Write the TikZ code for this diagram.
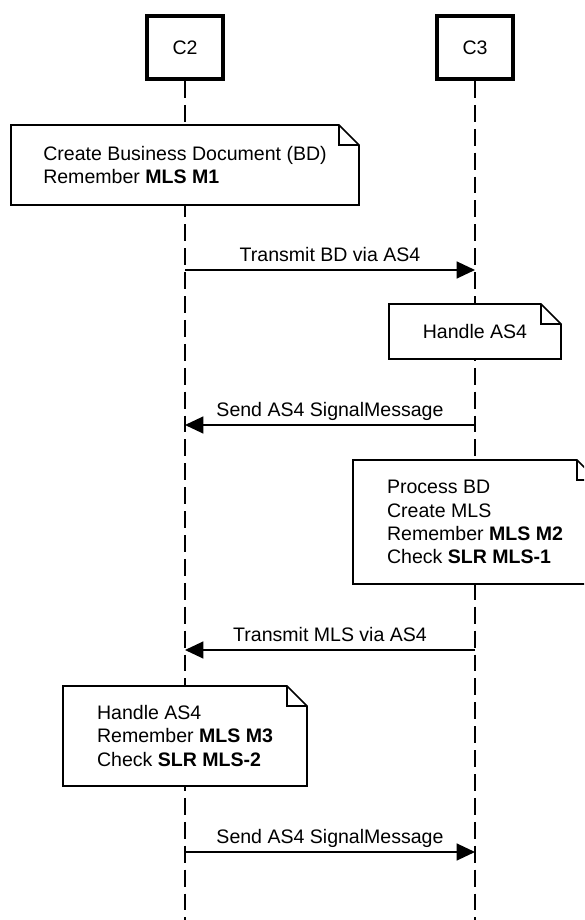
\documentclass[tikz,border=0pt]{standalone}
\usepackage{fontspec}
\setmainfont{Liberation Sans}
\usetikzlibrary{arrows.meta}

\begin{document}
\begin{tikzpicture}[>={Triangle[length=13pt,width=12pt]},font=\fontsize{13.9}{16.5}\selectfont,actor/.style={draw,line width=2.8pt,minimum width=1.9cm,minimum height=1.575cm,inner sep=0pt},life/.style={line width=1.1pt,dash pattern=on 12pt off 5pt},note/.style={fill=white,align=left,inner sep=0pt,outer sep=0pt},msg/.style={->,line width=1.1pt},lbl/.style={above=5.7pt,inner sep=0pt,text depth=0pt}]
\clip (0,0) rectangle (14.6,23);
\node[actor] (c2) at (4.625,21.8125) {C2};
\node[actor] (c3) at (11.875,21.8125) {C3};
\coordinate (c2end) at (4.625,0);
\coordinate (c3end) at (11.875,0);
\draw[life] (c2)--(c2end);
\draw[life] (c3)--(c3end);
\node[note,minimum width=8.7cm,minimum height=2cm] (n1) at (4.625,18.875) {Create Business Document (BD)\\Remember \textbf{MLS M1}};
\node[note,minimum width=4.3cm,minimum height=1.375cm] (n2) at (11.875,14.7125) {Handle AS4};
\node[note,minimum width=6.1cm,minimum height=3.1cm] (n3) at (11.875,9.95) {Process BD\\Create MLS\\Remember \textbf{MLS M2}\\Check \textbf{SLR MLS-1}};
\node[note,minimum width=6.1cm,minimum height=2.5cm] (n4) at (4.625,4.6) {Handle AS4\\Remember \textbf{MLS M3}\\Check \textbf{SLR MLS-2}};
\foreach \n in {n1,n2,n3,n4}{
  \draw[line width=1.1pt] (\n.south west)--(\n.north west)--([xshift=-0.5cm]\n.north east)--([yshift=-0.5cm]\n.north east)--(\n.south east)--cycle;
  \draw[line width=1.1pt] ([xshift=-0.5cm]\n.north east)--++(0,-0.5)--([yshift=-0.5cm]\n.north east);
}
\coordinate (m1a) at (4.625,16.25);
\coordinate (m1b) at (11.875,16.25);
\coordinate (m2a) at (11.875,12.375);
\coordinate (m2b) at (4.625,12.375);
\coordinate (m3a) at (11.875,6.75);
\coordinate (m3b) at (4.625,6.75);
\coordinate (m4a) at (4.625,1.7);
\coordinate (m4b) at (11.875,1.7);
\draw[msg] (m1a)--node[lbl] {Transmit BD via AS4} (m1b);
\draw[msg] (m2a)--node[lbl] {Send AS4 SignalMessage} (m2b);
\draw[msg] (m3a)--node[lbl] {Transmit MLS via AS4} (m3b);
\draw[msg] (m4a)--node[lbl] {Send AS4 SignalMessage} (m4b);
\end{tikzpicture}
\end{document}
